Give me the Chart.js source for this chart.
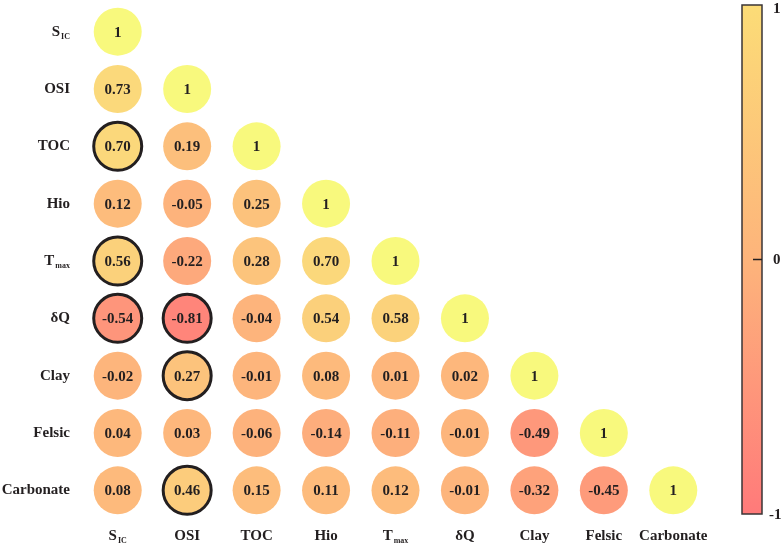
<!DOCTYPE html>
<html lang="en">
<head>
    <meta charset="UTF-8">
    <title>Correlation matrix</title>
    <script src="https://cdn.jsdelivr.net/npm/chart.js"></script>
    <style>
        html, body { margin: 0; padding: 0; background: #fff; }
        #wrap { width: 782px; height: 546px; position: relative; }
    </style>
</head>
<body>
    <div id="wrap"><canvas id="corrChart"></canvas></div>

    <script>
        // variable names (main part + subscript)
        const varNames = ['S', 'OSI', 'TOC', 'Hio', 'T', '\u03B4Q', 'Clay', 'Felsic', 'Carbonate'];
        const varSubs  = ['IC', '', '', '', 'max', '', '', '', ''];

        // lower triangle of the correlation matrix, row by row
        const corrRows = [
            [1],
            [0.73, 1],
            [0.70, 0.19, 1],
            [0.12, -0.05, 0.25, 1],
            [0.56, -0.22, 0.28, 0.70, 1],
            [-0.54, -0.81, -0.04, 0.54, 0.58, 1],
            [-0.02, 0.27, -0.01, 0.08, 0.01, 0.02, 1],
            [0.04, 0.03, -0.06, -0.14, -0.11, -0.01, -0.49, 1],
            [0.08, 0.46, 0.15, 0.11, 0.12, -0.01, -0.32, -0.45, 1]
        ];

        // significant cells [row, col] (drawn with a dark ring)
        const sigCells = [[2, 0], [4, 0], [5, 0], [5, 1], [6, 1], [8, 1]];

        // colour bar ticks
        const cbarTicks = [1, 0, -1];

        const SERIF = '"Liberation Serif", "Times New Roman", serif';
        const INK = '#231f20';

        function hex(c) {
            return [parseInt(c.slice(1, 3), 16), parseInt(c.slice(3, 5), 16), parseInt(c.slice(5, 7), 16)];
        }
        const stops = [[-1, '#ff797a'], [0, '#fdb67c'], [0.99, '#fae67b'], [1, '#f8f97d']];
        function colorFor(v) {
            for (let i = 0; i < stops.length - 1; i++) {
                const [a, ca] = stops[i], [b, cb] = stops[i + 1];
                if (v <= b) {
                    const t = (v - a) / (b - a);
                    const A = hex(ca), B = hex(cb);
                    return 'rgb(' + A.map((x, k) => Math.round(x + (B[k] - x) * t)).join(',') + ')';
                }
            }
            return stops[stops.length - 1][1];
        }

        const isSig = (r, c) => sigCells.some(p => p[0] === r && p[1] === c);

        const points = [];
        corrRows.forEach((row, r) => row.forEach((v, c) => points.push({ x: c, y: r, v: v, sig: isSig(r, c) })));

        function drawLabel(ctx, i, x, y, align) {
            const main = varNames[i], sub = varSubs[i];
            ctx.font = 'bold 15px ' + SERIF;
            const wMain = ctx.measureText(main).width;
            ctx.font = 'bold 8px ' + SERIF;
            const wSub = sub ? ctx.measureText(sub).width + 1 : 0;
            const total = wMain + wSub;
            const left = align === 'right' ? x - total : x - total / 2;
            ctx.textAlign = 'left';
            ctx.textBaseline = 'middle';
            ctx.fillStyle = INK;
            ctx.font = 'bold 15px ' + SERIF;
            ctx.fillText(main, left, y);
            if (sub) {
                ctx.font = 'bold 8px ' + SERIF;
                ctx.fillText(sub, left + wMain + 1, y + 5);
            }
        }

        const labelPlugin = {
            id: 'corrLabels',
            afterDatasetsDraw(chart) {
                const ctx = chart.ctx;
                const xs = chart.scales.x, ys = chart.scales.y;
                ctx.save();
                // values inside circles
                const meta = chart.getDatasetMeta(0);
                ctx.font = 'bold 15px ' + SERIF;
                ctx.textAlign = 'center';
                ctx.textBaseline = 'middle';
                ctx.fillStyle = INK;
                meta.data.forEach((el, k) => {
                    const v = points[k].v;
                    ctx.fillText(v === 1 ? '1' : v.toFixed(2), el.x, el.y + 1);
                });
                // axis labels
                varNames.forEach((n, i) => {
                    drawLabel(ctx, i, 70, ys.getPixelForValue(i), 'right');
                    drawLabel(ctx, i, xs.getPixelForValue(i), 536, 'center');
                });
                // colour bar
                const bx = 742, bw = 20, top = 5, bottom = 514;
                const g = ctx.createLinearGradient(0, top, 0, bottom);
                g.addColorStop(0, '#fcdc77');
                g.addColorStop(0.5, '#fdb47b');
                g.addColorStop(1, '#ff7a7a');
                ctx.fillStyle = g;
                ctx.fillRect(bx, top, bw, bottom - top);
                ctx.strokeStyle = '#3a3536';
                ctx.lineWidth = 1.5;
                ctx.strokeRect(bx, top, bw, bottom - top);
                ctx.font = 'bold 15px ' + SERIF;
                ctx.textAlign = 'left';
                ctx.fillStyle = INK;
                cbarTicks.forEach(t => {
                    const y = bottom - (t + 1) / 2 * (bottom - top);
                    if (t === 0) {
                        ctx.beginPath();
                        ctx.moveTo(bx + 11, y);
                        ctx.lineTo(bx + bw, y);
                        ctx.strokeStyle = INK;
                        ctx.stroke();
                    }
                    ctx.fillText(String(t), t < 0 ? 769 : 773, Math.max(y + 1, 9));
                });
                ctx.restore();
            }
        };

        new Chart(document.getElementById('corrChart'), {
            type: 'scatter',
            data: {
                datasets: [{
                    data: points,
                    pointRadius: 24,
                    pointHoverRadius: 24,
                    backgroundColor: ctx => colorFor(ctx.raw.v),
                    hoverBackgroundColor: ctx => colorFor(ctx.raw.v),
                    borderColor: INK,
                    hoverBorderColor: INK,
                    borderWidth: ctx => ctx.raw.sig ? 3 : 0,
                    hoverBorderWidth: ctx => ctx.raw.sig ? 3 : 0,
                    clip: false
                }]
            },
            options: {
                responsive: true,
                maintainAspectRatio: false,
                animation: false,
                events: [],
                layout: { autoPadding: false, padding: { left: 83, right: 74, top: 3, bottom: 27 } },
                plugins: { legend: { display: false }, tooltip: { enabled: false } },
                scales: {
                    x: { type: 'linear', min: -0.5, max: 8.5, display: false },
                    y: { type: 'linear', min: -0.5, max: 8.5, reverse: true, display: false }
                }
            },
            plugins: [labelPlugin]
        });
    </script>
</body>
</html>
